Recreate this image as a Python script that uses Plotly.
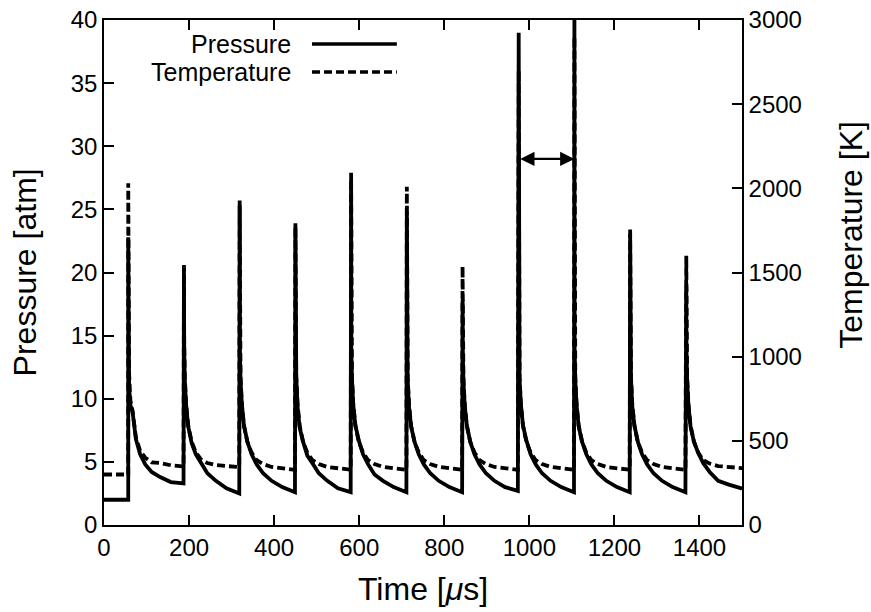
import plotly.graph_objects as go

# ---------------- data ----------------
# initial (pre-first-pulse) state
pre_time_us = [0, 57]
pre_pressure_atm = [2.0, 2.0]
pre_temperature_K = [300, 300]

# start time of each detonation pulse (µs)
pulse_start_us = [57, 188, 319, 450, 581, 712, 843, 975, 1106, 1237, 1369]

# sample times after each pulse start (µs)
decay_offsets_us = [0, 0.5, 2, 5, 10, 18, 28, 40, 55, 75, 100, 130]

# pressure [atm] after each pulse, at the offsets above
pressure_pulses_atm = [
    [22.8, 15.0, 11.0, 9.5, 9.0, 6.8, 5.6, 4.8, 4.2, 3.8, 3.4, 3.3],
    [20.6, 14.0, 11.5, 9.5, 7.8, 6.5, 5.6, 4.9, 4.1, 3.5, 2.9, 2.5],
    [25.7, 14.0, 11.5, 9.6, 7.9, 6.6, 5.6, 4.8, 4.1, 3.5, 3.0, 2.6],
    [23.9, 14.2, 11.8, 9.4, 7.7, 6.6, 5.5, 4.9, 4.1, 3.5, 2.9, 2.6],
    [27.9, 14.0, 11.6, 9.5, 7.9, 6.7, 5.6, 4.8, 4.0, 3.5, 3.0, 2.6],
    [24.8, 14.1, 11.5, 9.4, 7.8, 6.6, 5.6, 4.8, 4.1, 3.5, 3.0, 2.6],
    [17.8, 13.8, 11.4, 9.5, 7.9, 6.6, 5.6, 4.8, 4.1, 3.5, 3.0, 2.7],
    [39.0, 14.2, 11.6, 9.6, 7.9, 6.7, 5.6, 4.8, 4.1, 3.5, 3.0, 2.6],
    [42.0, 14.0, 11.5, 9.5, 7.8, 6.6, 5.6, 4.8, 4.1, 3.5, 3.0, 2.6],
    [23.4, 14.1, 11.6, 9.4, 7.9, 6.6, 5.6, 4.8, 4.1, 3.5, 3.0, 2.6],
    [18.9, 13.9, 11.5, 9.5, 7.8, 6.6, 5.7, 4.9, 4.2, 3.5, 3.2, 2.9],
]

# temperature [K] after each pulse, at the offsets above
temperature_pulses_K = [
    [2030, 1150, 900, 740, 680, 520, 440, 400, 372, 368, 355, 348],
    [1530, 1100, 880, 720, 590, 495, 430, 390, 368, 356, 350, 345],
    [1900, 1100, 880, 720, 590, 495, 430, 385, 362, 345, 335, 328],
    [1770, 1100, 880, 720, 590, 495, 430, 385, 362, 345, 335, 328],
    [2050, 1100, 880, 720, 590, 495, 430, 385, 362, 345, 335, 328],
    [2010, 1100, 880, 720, 590, 495, 430, 385, 362, 345, 335, 328],
    [1537, 1100, 880, 720, 590, 495, 430, 385, 362, 345, 335, 328],
    [2700, 1100, 880, 720, 590, 495, 430, 385, 362, 345, 335, 328],
    [2900, 1100, 880, 720, 590, 495, 430, 385, 362, 345, 335, 328],
    [1730, 1100, 880, 720, 590, 495, 430, 385, 362, 345, 335, 328],
    [1600, 1100, 880, 720, 590, 495, 430, 385, 365, 350, 342, 338],
]

end_time_us = [1500]
end_pressure_atm = [2.8]
end_temperature_K = [338]

# double-headed arrow marking one cycle
cycle_arrow_from_us = 975
cycle_arrow_to_us = 1106
cycle_arrow_level_atm = 29

x_ticks = [0, 200, 400, 600, 800, 1000, 1200, 1400]
y_ticks = [0, 5, 10, 15, 20, 25, 30, 35, 40]
y2_ticks = [0, 500, 1000, 1500, 2000, 2500, 3000]

# ---------------- assemble series ----------------
t_p, p = list(pre_time_us), list(pre_pressure_atm)
t_T, T = list(pre_time_us), list(pre_temperature_K)
for start, pvals, tvals in zip(pulse_start_us, pressure_pulses_atm, temperature_pulses_K):
    for off, pv, tv in zip(decay_offsets_us, pvals, tvals):
        t_p.append(start + off)
        p.append(pv)
        t_T.append(start + off)
        T.append(tv)
t_p += end_time_us
p += end_pressure_atm
t_T += end_time_us
T += end_temperature_K

FONT = "Liberation Sans, Arial, Helvetica, sans-serif"

fig = go.Figure()
fig.add_trace(go.Scatter(x=t_p, y=p, mode="lines", name="Pressure",
                         line=dict(color="black", width=3.8), yaxis="y"))
fig.add_trace(go.Scatter(x=t_T, y=T, mode="lines", name="Temperature",
                         line=dict(color="black", width=3.8, dash="8px,4px"), yaxis="y2"))

axis_common = dict(showline=True, linecolor="black", linewidth=1.5, ticks="inside",
                   ticklen=10, tickwidth=1.5, tickcolor="black", showgrid=False,
                   zeroline=False, automargin=False,
                   tickfont=dict(size=24, color="black", family=FONT))

fig.update_layout(
    width=871, height=612,
    margin=dict(l=104, r=129, t=20, b=87, autoexpand=False),
    paper_bgcolor="white", plot_bgcolor="white",
    showlegend=False,
    font=dict(family=FONT, color="black"),
    xaxis=dict(range=[0, 1500], tickvals=x_ticks, mirror="ticks", **axis_common),
    yaxis=dict(range=[0, 40], tickvals=y_ticks, mirror=False, **axis_common),
    yaxis2=dict(range=[0, 3000], tickvals=y2_ticks, overlaying="y", side="right", **axis_common),
)

# axis titles
TITLE_SIZE = 32
fig.add_annotation(text="Time [<i>μ</i>s]", x=0.5, y=-0.127, xref="paper", yref="paper",
                   showarrow=False, xanchor="center", yanchor="middle",
                   font=dict(size=TITLE_SIZE, family=FONT, color="black"))
fig.add_annotation(text="Pressure [atm]", x=-0.124, y=0.5, xref="paper", yref="paper",
                   showarrow=False, textangle=-90, xanchor="center", yanchor="middle",
                   font=dict(size=TITLE_SIZE, family=FONT, color="black"))
fig.add_annotation(text="Temperature [K]", x=1.171, y=0.575, xref="paper", yref="paper",
                   showarrow=False, textangle=-90, xanchor="center", yanchor="middle",
                   font=dict(size=TITLE_SIZE, family=FONT, color="black"))

# custom legend (text left, sample line right)
leg_rows = [("Pressure", 0.9525, "solid"), ("Temperature", 0.897, "8px,4px")]
for label, yy, dash in leg_rows:
    fig.add_annotation(text=label, x=0.296, y=yy, xref="paper", yref="paper",
                       showarrow=False, xanchor="right", yanchor="middle",
                       font=dict(size=25, family=FONT, color="black"))
    fig.add_shape(type="line", xref="paper", yref="paper", x0=0.326, x1=0.459, y0=yy, y1=yy,
                  line=dict(color="black", width=3.5, dash=dash))

# cycle arrow
fig.add_annotation(x=cycle_arrow_to_us, y=cycle_arrow_level_atm, ax=cycle_arrow_from_us,
                   ay=cycle_arrow_level_atm, xref="x", yref="y", axref="x", ayref="y",
                   text="", showarrow=True, arrowhead=2, arrowside="end+start",
                   arrowsize=1.3, arrowwidth=2.2, arrowcolor="black", standoff=0, startstandoff=0)

fig.write_html("out.html", config={"displayModeBar": False},
               post_script="document.body.style.margin='0px';document.body.style.padding='0px';")
